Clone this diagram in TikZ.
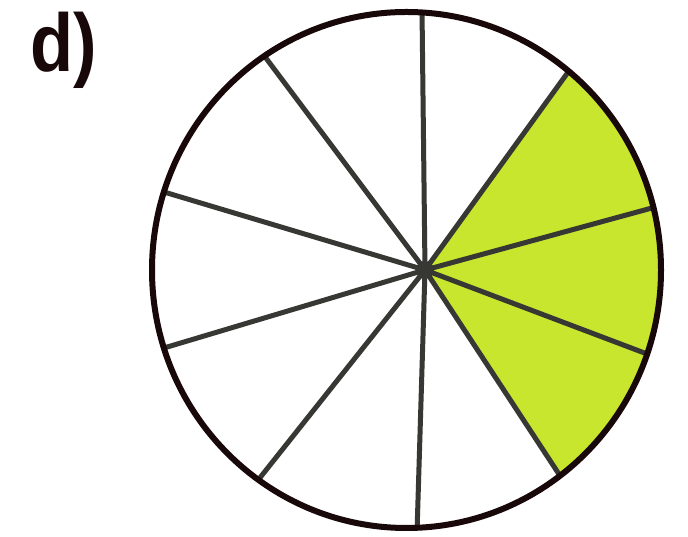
\documentclass[tikz,border=0pt]{standalone}
\usepackage{fontspec}
\setmainfont{Liberation Sans}
\usetikzlibrary{calc}
\definecolor{rim}{RGB}{25,8,10}
\definecolor{spokec}{RGB}{55,55,52}
\definecolor{wedge}{RGB}{200,230,45}
\tikzset{
  rimline/.style={draw=rim,line width=6pt},
  spokeline/.style={draw=spokec,line width=5pt},
  greenfill/.style={fill=wedge},
  label/.style={font=\bfseries\fontsize{82}{82}\selectfont,inner sep=0pt,text=rim,anchor=base west}
}
\begin{document}
\begin{tikzpicture}[x=1pt,y=1pt]
\useasboundingbox (0,0) rectangle (688,537);
\fill[white] (0,0) rectangle (688,537);
\coordinate (C) at (406.5,267);
\coordinate (H) at (425,267);
% green wedge
\path[greenfill] (H) -- ($(C)+(50.4:254.5 and 258)$)
  arc[start angle=50.4,end angle=-52.9,x radius=254.5,y radius=258] -- cycle;
% spokes
\foreach \a/\n in {86.5/s1,123.95/s2,162.4/s3,197.6/s4,234.4/s5,272.4/s6,307.1/s7,341/s8,14/s9,50.4/s10}{
  \coordinate (\n) at ($(C)+(\a:254.5 and 258)$);
  \draw[spokeline] (H) -- (\n);
}
% hub
\fill[spokec] (H) circle (9);
% rim
\draw[rimline] (C) ellipse [x radius=254.5,y radius=258];
\node[label,xscale=0.86] (lab) at (30,465) {d)};
\end{tikzpicture}
\end{document}
